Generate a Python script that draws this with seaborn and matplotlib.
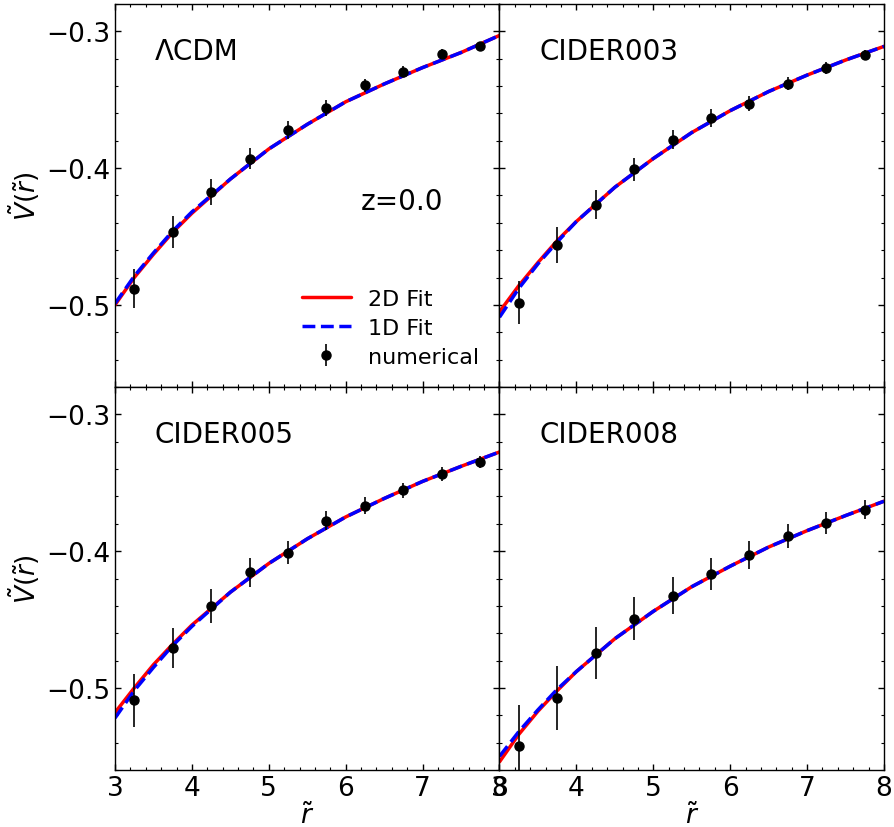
import matplotlib
matplotlib.use("Agg")
import pandas as pd
import matplotlib.pyplot as plt
from matplotlib.ticker import MultipleLocator
import seaborn as sns

# radien der numerischen punkte
r_num = [3.25, 3.75, 4.25, 4.75, 5.25, 5.75, 6.25, 6.75, 7.25, 7.75]
# stuetzstellen der fit-kurven
r_fit = [3.0, 3.25, 3.5, 3.75, 4.0, 4.5, 5.0, 5.5, 6.0, 6.5, 7.0, 7.5, 8.0]

modelle = ["ΛCDM", "CIDER003", "CIDER005", "CIDER008"]

# LCDM
v_lcdm = [-0.488, -0.4467, -0.4175, -0.393, -0.372, -0.356, -0.3394, -0.3297, -0.3166, -0.3105]
err_lcdm = [0.0146, 0.0117, 0.0094, 0.0077, 0.0065, 0.0058, 0.0047, 0.0040, 0.0034, 0.0030]
fit2d_lcdm = [-0.500, -0.480, -0.463, -0.447, -0.433, -0.408, -0.386, -0.368, -0.3515, -0.3385, -0.3265, -0.3155, -0.303]
fit1d_lcdm = [-0.499, -0.479, -0.462, -0.446, -0.432, -0.408, -0.386, -0.368, -0.3515, -0.3385, -0.3265, -0.3155, -0.303]

# CIDER003
v_c003 = [-0.4983, -0.4562, -0.4266, -0.401, -0.3791, -0.3633, -0.3531, -0.3382, -0.3268, -0.3173]
err_c003 = [0.016, 0.0128, 0.0105, 0.0085, 0.0071, 0.0063, 0.0055, 0.0047, 0.0043, 0.0039]
fit2d_c003 = [-0.505, -0.486, -0.469, -0.453, -0.439, -0.414, -0.393, -0.374, -0.358, -0.344, -0.332, -0.321, -0.311]
fit1d_c003 = [-0.509, -0.488, -0.470, -0.454, -0.439, -0.414, -0.393, -0.374, -0.358, -0.344, -0.332, -0.321, -0.311]

# CIDER005
v_c005 = [-0.509, -0.4708, -0.4398, -0.4155, -0.4011, -0.3777, -0.3667, -0.3555, -0.3438, -0.3351]
err_c005 = [0.0192, 0.0149, 0.0124, 0.0104, 0.0085, 0.0071, 0.0063, 0.0056, 0.0050, 0.0043]
fit2d_c005 = [-0.518, -0.500, -0.483, -0.468, -0.454, -0.430, -0.409, -0.391, -0.375, -0.3615, -0.349, -0.338, -0.3275]
fit1d_c005 = [-0.522, -0.502, -0.485, -0.469, -0.455, -0.430, -0.409, -0.391, -0.375, -0.3615, -0.349, -0.338, -0.3275]

# CIDER008
v_c008 = [-0.5421, -0.5073, -0.4742, -0.4493, -0.4325, -0.4167, -0.403, -0.3889, -0.3792, -0.3697]
err_c008 = [0.030, 0.0232, 0.019, 0.0158, 0.0136, 0.0116, 0.0104, 0.009, 0.008, 0.007]
fit2d_c008 = [-0.554, -0.534, -0.517, -0.502, -0.488, -0.464, -0.444, -0.426, -0.411, -0.397, -0.385, -0.374, -0.3635]
fit1d_c008 = [-0.550, -0.532, -0.516, -0.501, -0.488, -0.464, -0.444, -0.426, -0.411, -0.397, -0.385, -0.374, -0.3635]

werte = [v_lcdm, v_c003, v_c005, v_c008]
fehler = [err_lcdm, err_c003, err_c005, err_c008]
fits2d = [fit2d_lcdm, fit2d_c003, fit2d_c005, fit2d_c008]
fits1d = [fit1d_lcdm, fit1d_c003, fit1d_c005, fit1d_c008]

sns.set_style("ticks")
plt.rcParams["font.family"] = ["DejaVu Sans"]
plt.rcParams["mathtext.fontset"] = "dejavusans"
# alles schwarz statt seaborn-grau
for k in ["text.color", "axes.labelcolor", "xtick.color", "ytick.color", "axes.edgecolor"]:
    plt.rcParams[k] = "black"

fig, axes = plt.subplots(2, 2, figsize=(8.95, 8.28), dpi=100, sharex=True, sharey=True)
fig.subplots_adjust(left=0.1285, right=0.9877, top=0.994, bottom=0.0688, wspace=0, hspace=0)

for i, ax in enumerate(axes.flat):
    df_fit = pd.DataFrame({"r": r_fit, "fit2d": fits2d[i], "fit1d": fits1d[i]})

    sns.lineplot(data=df_fit, x="r", y="fit2d", ax=ax, color="red", lw=2.5,
                 label="2D Fit", legend=False)
    sns.lineplot(data=df_fit, x="r", y="fit1d", ax=ax, color="blue", lw=2.5,
                 linestyle="--", label="1D Fit", legend=False)
    ax.errorbar(r_num, werte[i], yerr=fehler[i], fmt="o", color="black",
                ms=6.5, elinewidth=1.2, capsize=0, label="numerical")

    ax.text(0.104, 0.878, modelle[i], transform=ax.transAxes, fontsize=20,
            ha="left", va="center")

    ax.set_xlim(3, 8)
    ax.set_ylim(-0.56, -0.28)
    ax.xaxis.set_major_locator(MultipleLocator(1))
    ax.xaxis.set_minor_locator(MultipleLocator(0.2))
    ax.yaxis.set_major_locator(MultipleLocator(0.1))
    ax.yaxis.set_minor_locator(MultipleLocator(0.02))
    ax.tick_params(which="both", direction="in", top=True, right=True, labelsize=19)
    ax.tick_params(which="major", length=4.5, width=1)
    ax.tick_params(which="minor", length=2.5, width=0.8)
    for sp in ax.spines.values():
        sp.set_linewidth(1)
    ax.set_xlabel("")
    ax.set_ylabel("")

# achsenbeschriftung nur aussen
for ax in axes[:, 0]:
    ax.set_ylabel(r"$\tilde{V}(\tilde{r})$", fontsize=19, labelpad=3)
for ax in axes[1, :]:
    ax.set_xlabel(r"$\tilde{r}$", fontsize=19, labelpad=1)

ax0 = axes[0, 0]
ax0.text(0.747, 0.486, "z=0.0", transform=ax0.transAxes, fontsize=20,
         ha="center", va="center")
handles, labels = ax0.get_legend_handles_labels()
ax0.legend(handles, labels, loc="lower right", frameon=False, fontsize=16,
           handlelength=2.2, handletextpad=0.8, labelspacing=0.4)

plt.savefig("out.png", dpi=100)
